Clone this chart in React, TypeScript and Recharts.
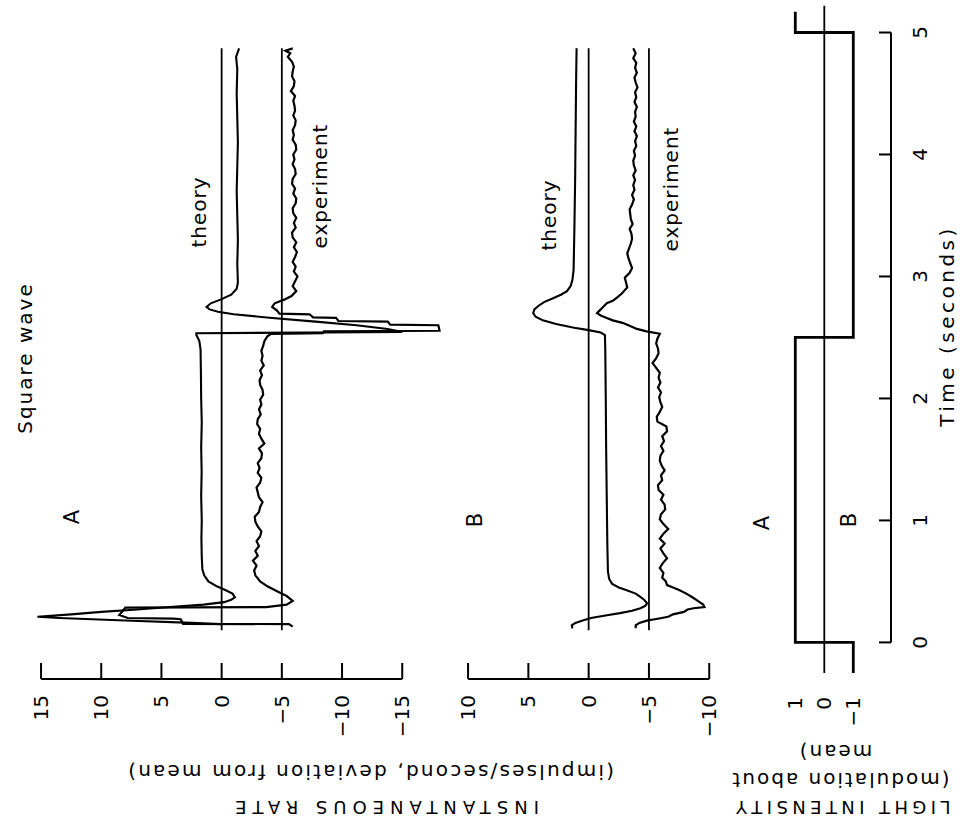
import React from 'react';
import { LineChart, Line, XAxis, YAxis, ReferenceLine } from 'recharts';

const INK = '#000';
const FONT = '"DejaVu Sans", "Liberation Sans", sans-serif';

// axes
const TIME_TICKS = [0, 1, 2, 3, 4, 5];
const RATE_TICKS_A = [15, 10, 5, 0, -5, -10, -15];
const RATE_TICKS_B = [10, 5, 0, -5, -10];
const LIGHT_TICKS = [1, 0, -1];
const BASELINES = [0, -5]; // zero lines for theory / experiment (experiment shifted by -5)
const TRACE_SPAN = [0.1, 4.87];

// [time (s), rate (impulses/s)]
const theoryA: [number, number][] = [
  [0.15, 0.1], [0.16, 2.5], [0.18, 8.0], [0.2, 13.5], [0.21, 15.3], [0.23, 12.5], [0.25, 10.0],
  [0.27, 7.0], [0.29, 4.3], [0.31, 1.5], [0.33, -0.2], [0.35, -0.8], [0.37, -1.1], [0.4, -0.9],
  [0.43, -0.3], [0.46, 0.4], [0.5, 1.1], [0.55, 1.45], [0.6, 1.6], [0.7, 1.65], [0.85, 1.68],
  [1.0, 1.65], [1.2, 1.7], [1.4, 1.66], [1.6, 1.7], [1.8, 1.65], [2.0, 1.7], [2.2, 1.72],
  [2.4, 1.75], [2.47, 1.85], [2.52, 2.1], [2.535, 2.1], [2.545, -15.0], [2.57, -13.8],
  [2.6, -11.2], [2.63, -7.8], [2.66, -4.2], [2.69, -1.0], [2.71, 0.3], [2.73, 1.0], [2.75, 1.25],
  [2.78, 0.9], [2.81, 0.1], [2.85, -0.8], [2.9, -1.25], [2.95, -1.35], [3.1, -1.3], [3.3, -1.35],
  [3.5, -1.3], [3.7, -1.25], [3.9, -1.3], [4.1, -1.35], [4.3, -1.3], [4.5, -1.25], [4.7, -1.3],
  [4.8, -1.2], [4.87, -1.45],
];

const experimentA: [number, number][] = [
  [0.13, -5.9], [0.15, -5.6], [0.152, 3.2], [0.19, 3.4], [0.195, 4.0], [0.2, 7.8], [0.225, 8.5],
  [0.26, 8.2], [0.285, 8.0], [0.29, -3.7], [0.31, -5.4], [0.34, -5.9], [0.38, -5.4], [0.42, -4.6],
  [0.46, -3.8], [0.5, -3.2], [0.55, -2.8], [0.59, -2.7], [0.63, -2.9], [0.67, -2.6], [0.71, -3.0],
  [0.75, -2.8], [0.79, -3.1], [0.83, -2.9], [0.87, -3.2], [0.91, -3.3], [0.95, -3.0], [0.99, -2.8],
  [1.03, -2.75], [1.07, -3.1], [1.11, -3.2], [1.15, -3.4], [1.19, -3.1], [1.23, -3.0], [1.27, -2.9],
  [1.31, -3.2], [1.35, -3.3], [1.39, -3.0], [1.43, -3.15], [1.47, -3.0], [1.51, -3.3], [1.55, -3.35],
  [1.59, -3.1], [1.63, -3.55], [1.67, -3.3], [1.71, -3.1], [1.75, -3.2], [1.79, -2.95], [1.83, -3.0],
  [1.87, -3.25], [1.91, -3.1], [1.95, -3.3], [1.99, -3.2], [2.03, -3.45], [2.07, -3.4], [2.11, -3.2],
  [2.15, -3.15], [2.19, -3.35], [2.23, -3.2], [2.27, -3.5], [2.31, -3.3], [2.35, -3.4], [2.39, -3.3],
  [2.43, -3.45], [2.47, -3.55], [2.51, -3.8], [2.53, -4.1], [2.535, -8.4], [2.55, -8.5],
  [2.555, -18.1], [2.6, -18.0], [2.605, -14.0], [2.63, -13.8], [2.635, -9.7], [2.66, -9.5],
  [2.665, -7.6], [2.69, -7.3], [2.695, -4.8], [2.72, -4.6], [2.75, -4.2], [2.78, -4.4], [2.81, -5.2],
  [2.84, -5.8], [2.88, -6.2], [2.92, -5.9], [2.96, -6.1], [3.0, -6.3], [3.04, -6.0], [3.08, -6.15],
  [3.12, -5.9], [3.16, -6.1], [3.2, -6.25], [3.24, -6.0], [3.28, -6.2], [3.32, -5.9], [3.36, -5.85],
  [3.4, -6.15], [3.44, -6.0], [3.48, -6.2], [3.52, -5.95], [3.56, -5.9], [3.6, -6.15], [3.64, -6.2],
  [3.68, -5.95], [3.72, -6.1], [3.76, -5.85], [3.8, -5.9], [3.84, -6.15], [3.88, -6.1], [3.92, -5.9],
  [3.96, -6.05], [4.0, -5.95], [4.04, -6.2], [4.08, -6.15], [4.12, -5.9], [4.16, -6.0], [4.2, -5.9],
  [4.24, -6.1], [4.28, -6.15], [4.32, -5.95], [4.36, -6.1], [4.4, -6.05], [4.44, -5.95], [4.48, -6.1],
  [4.52, -5.75], [4.56, -6.0], [4.6, -6.05], [4.64, -5.85], [4.68, -5.9], [4.72, -6.0], [4.76, -5.85],
  [4.8, -5.5], [4.83, -5.7], [4.85, -5.3], [4.87, -5.9],
];

const theoryB: [number, number][] = [
  [0.115, 1.35], [0.14, 1.4], [0.16, 1.1], [0.18, 0.5], [0.2, -0.2], [0.22, -1.4], [0.24, -2.6],
  [0.26, -3.6], [0.28, -4.3], [0.3, -4.7], [0.32, -4.85], [0.35, -4.6], [0.38, -4.2], [0.4, -3.9],
  [0.43, -3.1], [0.45, -2.5], [0.48, -1.95], [0.52, -1.7], [0.58, -1.6], [0.8, -1.55], [1.2, -1.5],
  [1.6, -1.45], [2.0, -1.42], [2.4, -1.38], [2.52, -1.35], [2.54, -1.0], [2.56, 0.0], [2.58, 1.2],
  [2.61, 2.7], [2.64, 3.8], [2.67, 4.4], [2.7, 4.6], [2.73, 4.5], [2.76, 4.15], [2.79, 3.7],
  [2.82, 3.0], [2.85, 2.3], [2.88, 1.8], [2.92, 1.5], [2.97, 1.35], [3.05, 1.25], [3.4, 1.18],
  [3.8, 1.12], [4.2, 1.08], [4.6, 1.04], [4.87, 1.0],
];

const experimentB: [number, number][] = [
  [0.115, -3.9], [0.14, -3.9], [0.16, -4.2], [0.18, -4.9], [0.19, -5.5], [0.21, -6.6], [0.23, -7.0],
  [0.25, -7.9], [0.27, -8.2], [0.28, -8.7], [0.29, -9.6], [0.31, -9.5], [0.33, -9.2], [0.35, -8.9],
  [0.37, -8.6], [0.4, -8.1], [0.43, -7.5], [0.45, -7.0], [0.47, -6.5], [0.5, -6.4], [0.53, -6.1],
  [0.57, -6.2], [0.61, -5.9], [0.65, -6.15], [0.69, -6.5], [0.73, -6.2], [0.77, -5.95], [0.81, -6.3],
  [0.85, -5.9], [0.89, -6.2], [0.93, -6.6], [0.97, -6.2], [1.01, -5.9], [1.05, -6.0], [1.09, -6.35],
  [1.13, -6.3], [1.17, -6.0], [1.21, -6.2], [1.25, -5.8], [1.29, -5.75], [1.33, -6.1], [1.37, -6.0],
  [1.41, -6.3], [1.45, -6.05], [1.49, -5.9], [1.53, -5.95], [1.57, -6.2], [1.61, -6.0], [1.65, -6.25],
  [1.69, -6.1], [1.73, -6.5], [1.77, -6.45], [1.81, -5.7], [1.85, -5.65], [1.89, -5.9], [1.93, -6.1],
  [1.97, -5.95], [2.01, -5.85], [2.05, -6.0], [2.09, -5.75], [2.13, -5.95], [2.17, -5.8], [2.21, -5.9],
  [2.25, -5.6], [2.29, -5.3], [2.33, -5.6], [2.37, -5.8], [2.41, -5.75], [2.45, -5.6], [2.49, -5.7],
  [2.53, -5.9], [2.55, -4.8], [2.57, -4.0], [2.6, -3.3], [2.62, -2.8], [2.64, -2.0], [2.66, -1.5],
  [2.68, -1.0], [2.7, -0.7], [2.72, -0.9], [2.75, -1.2], [2.78, -1.5], [2.8, -2.0], [2.83, -2.4],
  [2.86, -2.75], [2.91, -3.2], [2.95, -3.1], [2.99, -3.0], [3.03, -3.4], [3.07, -3.6], [3.11, -3.45],
  [3.15, -3.3], [3.19, -3.2], [3.23, -3.35], [3.27, -3.5], [3.31, -3.6], [3.35, -3.55], [3.39, -3.4],
  [3.43, -3.65], [3.47, -3.5], [3.51, -3.45], [3.55, -3.4], [3.59, -3.6], [3.63, -3.75], [3.67, -3.6],
  [3.71, -3.8], [3.75, -3.7], [3.79, -3.85], [3.83, -3.7], [3.87, -3.9], [3.91, -3.75], [3.95, -3.7],
  [3.99, -3.85], [4.03, -3.75], [4.07, -3.95], [4.11, -3.85], [4.15, -4.0], [4.19, -3.8], [4.23, -3.95],
  [4.27, -3.75], [4.31, -3.9], [4.35, -3.85], [4.39, -4.0], [4.43, -3.8], [4.47, -3.95], [4.51, -3.85],
  [4.55, -4.05], [4.59, -3.9], [4.63, -3.8], [4.67, -4.0], [4.71, -3.85], [4.75, -3.95], [4.79, -3.7],
  [4.83, -3.9], [4.87, -3.7],
];

// light modulation (square wave), [time, level]
const squareWave: [number, number][] = [
  [-0.25, -1], [0, -1], [0, 1], [2.5, 1], [2.5, -1], [5, -1], [5, 1], [5.17, 1],
];
const LIGHT_ZERO_SPAN = [-0.25, 5.22];

const rows = (pts: [number, number][]) => pts.map(([t, v]) => ({ t, v }));
const fmt = (v: number) => (v < 0 ? '\u2212' + Math.abs(v) : String(v));

// shared time scale
const T_DOMAIN: [number, number] = [-0.3, 5.25];
const PLOT_H = 677;
const AXIS_H = 72;
const TOP = 1.6;

const RateTick = (props: any) => {
  const { x, y, payload } = props;
  const ty = y + 16;
  return (
    <g>
      <line x1={x} y1={y} x2={x} y2={y - 16} stroke={INK} strokeWidth={2} />
      <text x={x} y={ty} transform={`rotate(-90 ${x} ${ty})`} textAnchor="end"
        dominantBaseline="central" fontSize={20} fontFamily={FONT} fill={INK}>
        {fmt(payload.value)}
      </text>
    </g>
  );
};

const LightTick = (props: any) => {
  const { x, y, payload } = props;
  const ty = y + 18;
  return (
    <text x={x} y={ty} transform={`rotate(-90 ${x} ${ty})`} textAnchor="end"
      dominantBaseline="central" fontSize={20} fontFamily={FONT} fill={INK}>
      {fmt(payload.value)}
    </text>
  );
};

const TimeTick = (props: any) => {
  const { x, y, payload } = props;
  const tx = x + 29;
  return (
    <g>
      <line x1={x - 12} y1={y} x2={x} y2={y} stroke={INK} strokeWidth={2} />
      <text x={tx} y={y} transform={`rotate(-90 ${tx} ${y})`} textAnchor="middle"
        dominantBaseline="central" fontSize={20} fontFamily={FONT} fill={INK}>
        {payload.value}
      </text>
    </g>
  );
};

interface PanelProps {
  left: number;
  width: number;
  domain: [number, number];
  ticks: number[];
  theory: [number, number][];
  experiment: [number, number][];
}

const RatePanel: React.FC<PanelProps> = ({ left, width, domain, ticks, theory, experiment }) => (
  <div style={{ position: 'absolute', left, top: TOP }}>
    <LineChart layout="vertical" width={width} height={PLOT_H + AXIS_H}
      margin={{ top: 0, right: 0, bottom: 0, left: 0 }}>
      <XAxis type="number" domain={domain} reversed allowDataOverflow ticks={ticks} interval={0}
        axisLine={false} tickLine={false} tickSize={0} tickMargin={0} height={AXIS_H}
        tick={RateTick} />
      <YAxis type="number" dataKey="t" domain={T_DOMAIN} reversed allowDataOverflow hide />
      <ReferenceLine ifOverflow="visible" stroke={INK} strokeWidth={2}
        segment={[{ x: ticks[0], y: T_DOMAIN[0] }, { x: ticks[ticks.length - 1], y: T_DOMAIN[0] }]} />
      {BASELINES.map((b) => (
        <ReferenceLine key={b} ifOverflow="visible" stroke={INK} strokeWidth={1.8}
          segment={[{ x: b, y: TRACE_SPAN[0] }, { x: b, y: TRACE_SPAN[1] }]} />
      ))}
      <Line data={rows(theory)} dataKey="v" type="linear" stroke={INK} strokeWidth={2.1}
        dot={false} activeDot={false} isAnimationActive={false} />
      <Line data={rows(experiment)} dataKey="v" type="linear" stroke={INK} strokeWidth={2.2}
        strokeLinejoin="miter" dot={false} activeDot={false} isAnimationActive={false} />
    </LineChart>
  </div>
);

const LightPanel: React.FC = () => (
  <div style={{ position: 'absolute', left: 774.7, top: TOP }}>
    <LineChart layout="vertical" width={116 + 66} height={PLOT_H + AXIS_H}
      margin={{ top: 0, right: 0, bottom: 0, left: 0 }}>
      <XAxis type="number" domain={[-2.3, 1.7]} reversed allowDataOverflow ticks={LIGHT_TICKS}
        interval={0} axisLine={false} tickLine={false} tickSize={0} tickMargin={0} height={AXIS_H}
        tick={LightTick} />
      <YAxis type="number" dataKey="t" orientation="right" width={66} domain={T_DOMAIN} reversed
        allowDataOverflow ticks={TIME_TICKS} interval={0} axisLine={false} tickLine={false}
        tickSize={0} tickMargin={0} tick={TimeTick} />
      <ReferenceLine ifOverflow="visible" stroke={INK} strokeWidth={2}
        segment={[{ x: -2.3, y: TIME_TICKS[0] }, { x: -2.3, y: TIME_TICKS[TIME_TICKS.length - 1] }]} />
      <ReferenceLine ifOverflow="visible" stroke={INK} strokeWidth={1.8}
        segment={[{ x: 0, y: LIGHT_ZERO_SPAN[0] }, { x: 0, y: LIGHT_ZERO_SPAN[1] }]} />
      <Line data={rows(squareWave)} dataKey="v" type="linear" stroke={INK} strokeWidth={2.8}
        strokeLinejoin="miter" dot={false} activeDot={false} isAnimationActive={false} />
    </LineChart>
  </div>
);

const Txt = ({ x, y, angle, size = 20, spacing = 0, children }: any) => (
  <text x={x} y={y} transform={`rotate(${angle} ${x} ${y})`} textAnchor="middle"
    dominantBaseline="central" fontSize={size} fontFamily={FONT} fill={INK}
    style={{ letterSpacing: spacing }}>
    {children}
  </text>
);

export default function App() {
  return (
    <div style={{ position: 'absolute', left: 0, top: 0, width: 962, height: 828, overflow: 'hidden', background: '#fff' }}>
      <RatePanel left={29.4} width={421.4} domain={[-19, 16]} ticks={RATE_TICKS_A}
        theory={theoryA} experiment={experimentA} />
      <RatePanel left={456.1} width={265.3} domain={[-11, 11]} ticks={RATE_TICKS_B}
        theory={theoryB} experiment={experimentB} />
      <LightPanel />
      <svg width={962} height={828} style={{ position: 'absolute', left: 0, top: 0, pointerEvents: 'none' }}>
        <Txt x={25} y={358} angle={-90} spacing={2}>Square wave</Txt>
        <Txt x={72} y={517} angle={-90} size={21}>A</Txt>
        <Txt x={199} y={212} angle={-90} spacing={1}>theory</Txt>
        <Txt x={320} y={186} angle={-90} spacing={1}>experiment</Txt>
        <Txt x={475} y={520} angle={-90} size={21}>B</Txt>
        <Txt x={549} y={215} angle={-90} spacing={1}>theory</Txt>
        <Txt x={671} y={189} angle={-90} spacing={1}>experiment</Txt>
        <Txt x={762} y={523} angle={-90} size={21}>A</Txt>
        <Txt x={849} y={520} angle={-90} size={21}>B</Txt>
        <Txt x={947} y={326} angle={-90} spacing={3.5}>{'Time  (seconds)'}</Txt>
        <Txt x={370} y={772} angle={180} spacing={2.2}>(impulses/second, deviation from mean)</Txt>
        <Txt x={384} y={807} angle={180} size={18} spacing={6}>{'INSTANTANEOUS  RATE'}</Txt>
        <Txt x={835} y={752} angle={180} spacing={2}>mean)</Txt>
        <Txt x={840} y={780} angle={180} spacing={2}>(modulation about</Txt>
        <Txt x={841} y={807} angle={180} size={18} spacing={4.4}>LIGHT INTENSITY</Txt>
      </svg>
    </div>
  );
}
